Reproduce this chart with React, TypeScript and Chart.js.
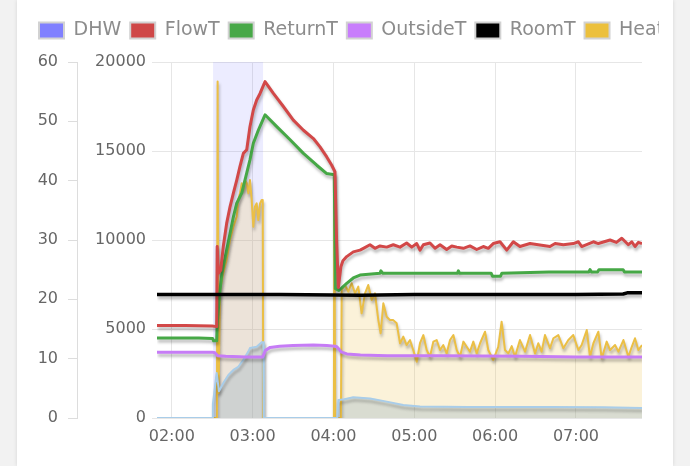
import { useEffect, useRef } from 'react';
import { Chart, registerables } from 'chart.js';

Chart.register(...registerables);

// ---- axes / ticks ----
const X_MIN = 109; // minutes after midnight (01:49)
const X_MAX = 469; // 07:49
const HOUR_TICKS = [120, 180, 240, 300, 360, 420];
const HOUR_LABELS = ['02:00', '03:00', '04:00', '05:00', '06:00', '07:00'];

// ---- series (time in minutes, value) ----
const DHW_TIME = [109, 150.6, 187.7, 469];
const DHW_VAL = [0, 60, 0, 0];

const FLOW_TIME = [109, 130, 150, 153.3, 153.7, 154.5, 156.3, 158.2, 160.7, 163.2, 165.7, 168.2, 170.6, 173.1, 175.6, 178, 180.5, 183, 185.5, 189.2, 195.4, 202.8, 210.2, 217.7, 225.1, 230, 235, 238.7, 241.1, 242.3, 243.6, 245.5, 247, 249.8, 254.7, 259.7, 262.2, 267.1, 270.8, 274.5, 279.5, 284.4, 289.4, 294.3, 298.1, 301.8, 304.2, 306.7, 311.6, 315.4, 319.1, 324, 327.8, 331.5, 336.4, 341.3, 346.3, 351.2, 354.9, 358.6, 363.6, 368.6, 373.5, 378.4, 385.9, 392, 400.7, 404.5, 410.6, 418, 421.8, 424.2, 432.9, 436.6, 445.3, 450, 454, 458.9, 461.4, 463.8, 466.3, 469];
const FLOW_VAL = [15.6, 15.6, 15.5, 15.4, 28.9, 24.4, 24.9, 28.9, 32.8, 35.6, 37.9, 40.1, 42.4, 44.6, 45.2, 49.1, 51.9, 53.6, 54.7, 56.7, 54.7, 52.5, 50.2, 48.5, 47.1, 45.7, 44, 42.6, 41.5, 30, 22, 25.5, 26.5, 27.2, 28, 28.3, 28.6, 29.2, 28.6, 29.0, 28.8, 29.2, 28.8, 29.5, 28.8, 29.4, 28.3, 29.2, 29.5, 28.6, 29.2, 28.4, 29.0, 28.8, 28.6, 29.0, 28.4, 28.9, 28.6, 29.4, 29.7, 28.3, 29.7, 28.9, 29.4, 29.2, 28.9, 29.4, 29.2, 29.4, 29.7, 28.9, 29.7, 29.4, 30.0, 29.6, 30.3, 29.2, 29.7, 28.9, 29.6, 29.4];

const RETURN_TIME = [109, 140, 150.3, 151, 153.3, 153.7, 155.5, 157.2, 159.7, 163.2, 165.7, 168.2, 171.9, 174.3, 178, 180.5, 184.2, 189.2, 197.9, 207.8, 217.7, 227.6, 235, 240.6, 241.4, 244, 246, 249.8, 254.7, 259.7, 274.5, 275.2, 276.5, 332, 332.7, 333.5, 357, 358, 364, 365, 400, 429.5, 430.4, 431.5, 436, 437, 455, 456, 469];
const RETURN_VAL = [13.5, 13.5, 13.4, 13.0, 13.0, 16, 21, 24.4, 27.2, 31.1, 33.9, 36.2, 37.9, 40.1, 43.5, 46.3, 48.5, 51.1, 49.1, 46.9, 44.6, 42.6, 41.2, 41.0, 21.8, 21.5, 21.9, 22.7, 23.6, 24.1, 24.4, 24.8, 24.4, 24.4, 24.8, 24.4, 24.4, 23.9, 23.9, 24.4, 24.6, 24.6, 25.0, 24.6, 24.6, 25.0, 25.0, 24.6, 24.6];

const OUTSIDE_TIME = [109, 150, 152, 154, 160, 175, 187.5, 189.5, 193, 200, 210, 225, 235, 241, 242.5, 246, 250, 260, 280, 320, 380, 420, 469];
const OUTSIDE_VAL = [11.1, 11.1, 11.0, 10.5, 10.4, 10.3, 10.3, 11.4, 11.9, 12.1, 12.2, 12.3, 12.2, 12.1, 12.0, 11.1, 10.8, 10.6, 10.5, 10.5, 10.4, 10.3, 10.3];

const ROOM_TIME = [109, 200, 260, 300, 380, 420, 455, 458, 469];
const ROOM_VAL = [20.8, 20.8, 20.7, 20.8, 20.8, 20.8, 20.9, 21.1, 21.1];

const HEAT_TIME = [109, 153.5, 154, 154.7, 155.8, 158.2, 160.7, 163.2, 165.7, 168.2, 169.3, 170.6, 171.9, 173.1, 174.3, 175.6, 176.8, 178, 179.3, 180.5, 181.7, 183, 184.2, 185.5, 186.7, 187.5, 187.9, 240.3, 240.6, 241.3, 245.5, 246.1, 248.5, 251, 253.5, 256, 258.4, 260.9, 263.4, 265.8, 268.4, 270.8, 273.3, 275, 277, 279.5, 282, 284.4, 286.9, 289.4, 291.8, 294.3, 296.8, 299.2, 301.8, 304.2, 306.7, 309.2, 311.6, 314.1, 316.6, 319.1, 321.5, 324, 326.5, 329, 331.5, 333.9, 336.4, 338.9, 341.3, 343.8, 346.3, 348.8, 352.5, 354.9, 358.6, 362.3, 364.8, 367.3, 369.8, 372.3, 374.7, 378.4, 382.2, 385.9, 389.6, 392, 394.5, 397, 400.7, 403.2, 406.9, 410.6, 414.3, 418, 421.8, 424.2, 428, 430.4, 432.9, 436.6, 439.1, 442.8, 445.3, 449, 451.5, 455.2, 458.9, 461.4, 463.8, 466.3, 469];
const HEAT_VAL = [0, 0, 18900, 1400, 7190, 8130, 8880, 10000, 10750, 11310, 12250, 12620, 13190, 12810, 13370, 13190, 12620, 13370, 12250, 10750, 11870, 12060, 11120, 12060, 12250, 12250, 0, 0, 13760, 0, 0, 7190, 7470, 7100, 7570, 7000, 7380, 5880, 7000, 7470, 6630, 7000, 5500, 4760, 6440, 5690, 5500, 5500, 5320, 4200, 4570, 4100, 4380, 3820, 3160, 4200, 4660, 3820, 3440, 4290, 4380, 3820, 4100, 3630, 4380, 4660, 3820, 3440, 4290, 4000, 3730, 4290, 3630, 4200, 4850, 3820, 3260, 4000, 5410, 3820, 3630, 4040, 3440, 4380, 3730, 4660, 3630, 4200, 3730, 4660, 3920, 4480, 4660, 3920, 4380, 4660, 3820, 4100, 4940, 3440, 4200, 4850, 3350, 4290, 3820, 4100, 3730, 4380, 3440, 4000, 4480, 3820, 4100];

const ELEC_TIME = [109, 150, 150.5, 153.3, 155, 158.2, 162, 165.7, 169.3, 173, 176.8, 178, 183, 186.7, 187.8, 188.3, 242.8, 243.6, 248, 254.7, 267.1, 279.5, 291.8, 304.2, 340, 400, 440, 469];
const ELEC_VAL = [0, 0, 800, 2530, 1500, 1970, 2420, 2700, 2870, 3260, 3730, 3930, 4000, 4250, 4250, 0, 0, 1010, 1050, 1160, 1100, 920, 730, 640, 620, 620, 600, 560];

const SERIES_LABELS = ['DHW', 'FlowT', 'ReturnT', 'OutsideT', 'RoomT', 'Heat', 'Elec'];
const LEGEND_COLORS = ['#8080ff', '#cf4848', '#48a848', '#c87dfc', '#000000', '#ecc03c', '#a9cde9'];

const FONT = 'DejaVu Sans';

const pts = (t: number[], v: number[]) => t.map((x, i) => ({ x, y: v[i] }));

const shadowPlugin = {
  id: 'lineShadow',
  beforeDatasetDraw(chart: any, args: any) {
    const ctx = chart.ctx;
    ctx.save();
    if (args.index !== 0) {
      ctx.shadowColor = 'rgba(0,0,0,0.28)';
      ctx.shadowBlur = 3;
      ctx.shadowOffsetX = 1;
      ctx.shadowOffsetY = 3;
    }
  },
  afterDatasetDraw(chart: any) {
    chart.ctx.restore();
  },
};

export default function App() {
  const ref = useRef<HTMLCanvasElement>(null);

  useEffect(() => {
    const tickFont = { family: FONT, size: 16 };
    const chart = new Chart(ref.current as HTMLCanvasElement, {
      type: 'line',
      data: {
        datasets: [
          {
            label: SERIES_LABELS[0], data: pts(DHW_TIME, DHW_VAL), yAxisID: 'y', stepped: 'before',
            fill: 'origin', backgroundColor: 'rgba(128,128,255,0.15)', borderColor: 'rgba(0,0,0,0)', borderWidth: 0, order: 100,
          },
          { label: SERIES_LABELS[1], data: pts(FLOW_TIME, FLOW_VAL), yAxisID: 'y', borderColor: '#d24848', borderWidth: 3, fill: false, order: 2 },
          { label: SERIES_LABELS[2], data: pts(RETURN_TIME, RETURN_VAL), yAxisID: 'y', borderColor: '#46a846', borderWidth: 3, fill: false, order: 3 },
          { label: SERIES_LABELS[3], data: pts(OUTSIDE_TIME, OUTSIDE_VAL), yAxisID: 'y', borderColor: '#c67cf6', borderWidth: 3, fill: false, order: 4 },
          { label: SERIES_LABELS[4], data: pts(ROOM_TIME, ROOM_VAL), yAxisID: 'y', borderColor: '#000000', borderWidth: 3.5, fill: false, order: 1 },
          {
            label: SERIES_LABELS[5], data: pts(HEAT_TIME, HEAT_VAL), yAxisID: 'y2', borderColor: '#ebbf45', borderWidth: 2,
            fill: 'origin', backgroundColor: 'rgba(236,192,64,0.2)', order: 20,
          },
          {
            label: SERIES_LABELS[6], data: pts(ELEC_TIME, ELEC_VAL), yAxisID: 'y2', borderColor: '#a9cde9', borderWidth: 2,
            fill: 'origin', backgroundColor: 'rgba(140,170,190,0.3)', order: 10,
          },
        ],
      },
      options: {
        animation: false,
        responsive: false,
        devicePixelRatio: 1,
        events: [],
        layout: { padding: { top: 12, left: 0, right: 0, bottom: 0 } },
        elements: { point: { radius: 0 }, line: { tension: 0, borderJoinStyle: 'round' } },
        plugins: {
          filler: { drawTime: 'beforeDatasetsDraw' },
          tooltip: { enabled: false },
          legend: {
            align: 'start',
            labels: {
              boxWidth: 25,
              boxHeight: 16,
              padding: 9,
              color: '#8c8c8c',
              font: { family: FONT, size: 19 },
              generateLabels: (c: any) =>
                c.data.datasets.map((ds: any, i: number) => ({
                  text: ds.label,
                  fillStyle: LEGEND_COLORS[i],
                  strokeStyle: '#d2d2d2',
                  lineWidth: 2,
                  hidden: false,
                  datasetIndex: i,
                  fontColor: '#8c8c8c',
                })),
            },
          },
        },
        scales: {
          x: {
            type: 'linear',
            position: 'bottom',
            min: X_MIN,
            max: X_MAX,
            afterBuildTicks: (s: any) => { s.ticks = HOUR_TICKS.map((v) => ({ value: v })); },
            afterFit: (s: any) => { s.height = 48; },
            ticks: {
              font: tickFont, color: '#666', padding: 9, maxRotation: 0,
              callback: (v: any) => HOUR_LABELS[HOUR_TICKS.indexOf(Number(v))] ?? '',
            },
            grid: { color: '#e6e6e6', drawTicks: false },
            border: { display: false },
          },
          xTop: {
            type: 'linear', position: 'top', display: true,
            ticks: { display: false }, grid: { display: false }, border: { display: false },
            afterFit: (s: any) => { s.height = 12; },
          },
          y: {
            type: 'linear', position: 'left', weight: 1, min: 0, max: 60,
            ticks: { stepSize: 10, font: tickFont, color: '#666', padding: 10 },
            grid: { drawOnChartArea: false, tickLength: 9, color: '#dddddd' },
            border: { display: true, color: '#dddddd' },
            afterFit: (s: any) => { s.width = 47; },
          },
          y2: {
            type: 'linear', position: 'left', weight: 0, min: 0, max: 20000,
            ticks: { stepSize: 5000, font: tickFont, color: '#666', padding: 6, callback: (v: any) => String(v) },
            grid: { tickLength: 5, color: '#e6e6e6' },
            border: { display: false },
            afterFit: (s: any) => { s.width = 80; },
          },
          yRight: {
            type: 'linear', position: 'right', display: true,
            ticks: { display: false }, grid: { display: false }, border: { display: false },
            afterFit: (s: any) => { s.width = 288; },
          },
        },
      },
      plugins: [shadowPlugin],
    } as any);
    return () => chart.destroy();
  }, []);

  return (
    <div style={{ position: 'fixed', left: 0, top: 0, width: 690, height: 466, background: '#f2f2f2', overflow: 'hidden' }}>
      <div style={{ position: 'absolute', left: 17, top: 0, width: 656, height: 466, background: '#ffffff', boxShadow: '0 0 4px rgba(0,0,0,0.12)' }}>
        <div style={{ position: 'absolute', left: 0, top: 0, width: 642, height: 466, overflow: 'hidden' }}>
          <canvas ref={ref} width={900} height={466} style={{ position: 'absolute', left: 13, top: 0, width: 900, height: 466 }} />
        </div>
      </div>
    </div>
  );
}
